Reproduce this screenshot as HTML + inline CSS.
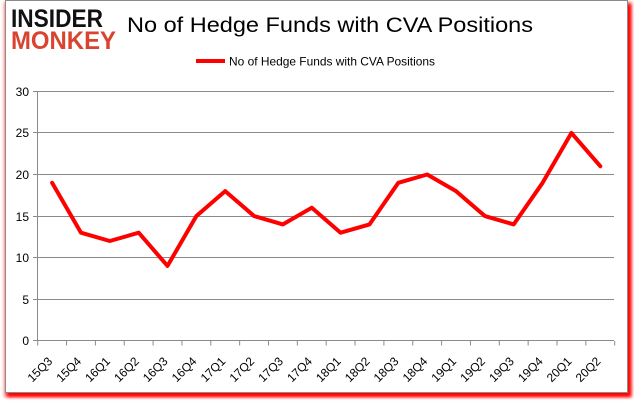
<!DOCTYPE html>
<html><head><meta charset="utf-8"><style>
html,body{margin:0;padding:0;background:#fff;}
svg{display:block;}
text{font-family:"Liberation Sans",Arial,sans-serif;}
</style></head><body>
<svg width="634" height="404" viewBox="0 0 634 404" xmlns="http://www.w3.org/2000/svg">
<defs>
<filter id="b" x="-5%" y="-5%" width="110%" height="110%"><feGaussianBlur stdDeviation="1.6"/></filter>
</defs>
<rect x="0" y="0" width="634" height="404" fill="#fff"/>
<rect x="4" y="2" width="628" height="395" fill="#ff2020" opacity="0.55" filter="url(#b)"/>
<rect x="7" y="4" width="624" height="393" fill="#ff0000" filter="url(#b)"/>
<rect x="5.5" y="0.5" width="622" height="392" fill="#fff" stroke="#8a8a8a" stroke-width="1"/>

<!-- logo -->
<text x="11" y="27" font-size="25" font-weight="bold" fill="#111" textLength="92" lengthAdjust="spacingAndGlyphs">INSIDER</text>
<text x="11" y="49" font-size="25" font-weight="bold" fill="#d9432f" textLength="105" lengthAdjust="spacingAndGlyphs">MONKEY</text>

<!-- title -->
<text x="127" y="32" font-size="21" fill="#000" textLength="406" lengthAdjust="spacingAndGlyphs">No of Hedge Funds with CVA Positions</text>

<!-- legend -->
<line x1="196" y1="61" x2="225" y2="61" stroke="#ff0000" stroke-width="4"/>
<text x="229" y="65.5" font-size="12" fill="#000" textLength="206" lengthAdjust="spacingAndGlyphs">No of Hedge Funds with CVA Positions</text>

<!-- gridlines -->
<g stroke="#8a8a8a" stroke-width="1">
<line x1="33" y1="91.5" x2="614" y2="91.5"/>
<line x1="33" y1="132.5" x2="614" y2="132.5"/>
<line x1="33" y1="174.5" x2="614" y2="174.5"/>
<line x1="33" y1="216.5" x2="614" y2="216.5"/>
<line x1="33" y1="257.5" x2="614" y2="257.5"/>
<line x1="33" y1="299.5" x2="614" y2="299.5"/>
<line x1="33" y1="340.5" x2="614" y2="340.5"/>
<line x1="37.5" y1="91" x2="37.5" y2="341"/>
</g>
<!-- x ticks -->
<g stroke="#8a8a8a" stroke-width="1">
<line x1="37.7" y1="341" x2="37.7" y2="345.5"/>
<line x1="66.55" y1="341" x2="66.55" y2="345.5"/>
<line x1="95.4" y1="341" x2="95.4" y2="345.5"/>
<line x1="124.25" y1="341" x2="124.25" y2="345.5"/>
<line x1="153.1" y1="341" x2="153.1" y2="345.5"/>
<line x1="181.95" y1="341" x2="181.95" y2="345.5"/>
<line x1="210.8" y1="341" x2="210.8" y2="345.5"/>
<line x1="239.65" y1="341" x2="239.65" y2="345.5"/>
<line x1="268.5" y1="341" x2="268.5" y2="345.5"/>
<line x1="297.35" y1="341" x2="297.35" y2="345.5"/>
<line x1="326.2" y1="341" x2="326.2" y2="345.5"/>
<line x1="355.05" y1="341" x2="355.05" y2="345.5"/>
<line x1="383.9" y1="341" x2="383.9" y2="345.5"/>
<line x1="412.75" y1="341" x2="412.75" y2="345.5"/>
<line x1="441.6" y1="341" x2="441.6" y2="345.5"/>
<line x1="470.45" y1="341" x2="470.45" y2="345.5"/>
<line x1="499.3" y1="341" x2="499.3" y2="345.5"/>
<line x1="528.15" y1="341" x2="528.15" y2="345.5"/>
<line x1="557" y1="341" x2="557" y2="345.5"/>
<line x1="585.85" y1="341" x2="585.85" y2="345.5"/>
<line x1="614.7" y1="341" x2="614.7" y2="345.5"/>
</g>

<!-- y labels -->
<g font-size="12" fill="#000" text-anchor="end">
<text x="29" y="96">30</text>
<text x="29" y="137">25</text>
<text x="29" y="179">20</text>
<text x="29" y="221">15</text>
<text x="29" y="262">10</text>
<text x="29" y="304">5</text>
<text x="29" y="345">0</text>
</g>

<!-- x labels -->
<g font-size="12" fill="#000" text-anchor="end">
<text transform="translate(53.1,362) rotate(-45)">15Q3</text>
<text transform="translate(82,362) rotate(-45)">15Q4</text>
<text transform="translate(110.8,362) rotate(-45)">16Q1</text>
<text transform="translate(139.7,362) rotate(-45)">16Q2</text>
<text transform="translate(168.5,362) rotate(-45)">16Q3</text>
<text transform="translate(197.4,362) rotate(-45)">16Q4</text>
<text transform="translate(226.2,362) rotate(-45)">17Q1</text>
<text transform="translate(255.1,362) rotate(-45)">17Q2</text>
<text transform="translate(283.9,362) rotate(-45)">17Q3</text>
<text transform="translate(312.8,362) rotate(-45)">17Q4</text>
<text transform="translate(341.6,362) rotate(-45)">18Q1</text>
<text transform="translate(370.5,362) rotate(-45)">18Q2</text>
<text transform="translate(399.3,362) rotate(-45)">18Q3</text>
<text transform="translate(428.2,362) rotate(-45)">18Q4</text>
<text transform="translate(457,362) rotate(-45)">19Q1</text>
<text transform="translate(485.9,362) rotate(-45)">19Q2</text>
<text transform="translate(514.7,362) rotate(-45)">19Q3</text>
<text transform="translate(543.6,362) rotate(-45)">19Q4</text>
<text transform="translate(572.4,362) rotate(-45)">20Q1</text>
<text transform="translate(601.3,362) rotate(-45)">20Q2</text>
</g>

<!-- series -->
<polyline fill="none" stroke="#ff0000" stroke-width="4" stroke-linejoin="round" stroke-linecap="round"
points="52.1,182.8 81,232.7 109.8,241 138.7,232.7 167.5,265.9 196.4,216.05 225.2,191.1 254.1,216.05 282.9,224.4 311.8,207.7 340.6,232.7 369.5,224.4 398.3,182.8 427.2,174.5 456,191.1 484.9,216.05 513.7,224.4 542.6,182.8 571.4,132.95 600.3,166.2"/>
</svg>
</body></html>
